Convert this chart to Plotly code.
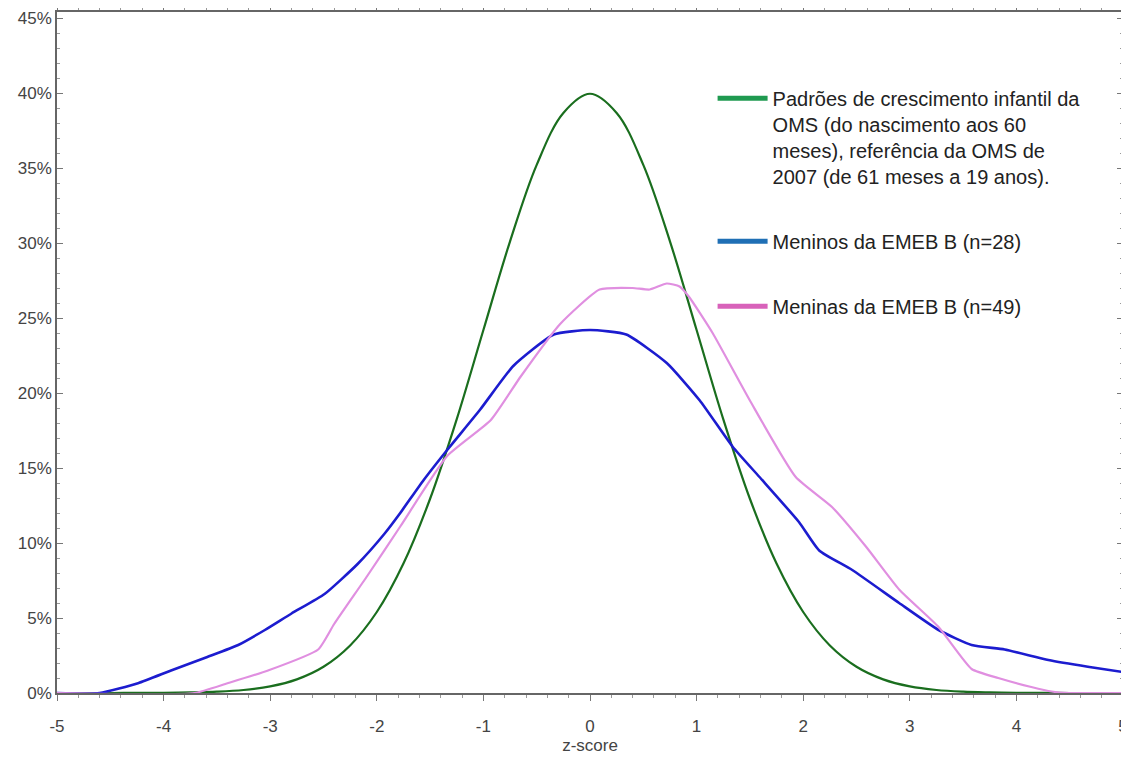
import plotly.graph_objects as go

# ---- data (in %) ----
who_x = [-5.0, -4.75, -4.5, -4.25, -4.0, -3.75, -3.5, -3.25, -3.0, -2.75, -2.5, -2.25,
         -2.0, -1.75, -1.5, -1.25, -1.0, -0.75, -0.5, -0.25, 0.0, 0.25, 0.5, 0.75,
         1.0, 1.25, 1.5, 1.75, 2.0, 2.25, 2.5, 2.75, 3.0, 3.25, 3.5, 3.75, 4.0,
         4.25, 4.5, 4.75, 5.0]
who_y = [0.0, 0.0, 0.0, 0.01, 0.01, 0.04, 0.09, 0.2, 0.44, 0.91, 1.75, 3.17,
         5.4, 8.63, 12.95, 18.26, 24.2, 30.11, 35.21, 38.67, 39.95, 38.67, 35.21, 30.11,
         24.2, 18.26, 12.95, 8.63, 5.4, 3.17, 1.75, 0.91, 0.44, 0.2, 0.09, 0.04, 0.01,
         0.01, 0.0, 0.0, 0.0]

boys_x = [-5.0, -4.6, -4.24, -3.93, -3.59, -3.30, -3.05, -2.80, -2.49, -2.18, -1.93,
          -1.78, -1.56, -1.34, -1.03, -0.72, -0.34, 0.0, 0.34, 0.72, 1.03, 1.34, 1.59,
          1.96, 2.15, 2.46, 2.90, 3.27, 3.58, 3.89, 4.30, 4.67, 5.0]
boys_y = [0.0, 0.0, 0.65, 1.5, 2.4, 3.2, 4.2, 5.3, 6.6, 8.6, 10.6,
          12.0, 14.2, 16.2, 18.9, 21.8, 23.9, 24.2, 23.9, 22.0, 19.5, 16.4, 14.4,
          11.4, 9.5, 8.2, 6.0, 4.2, 3.2, 2.9, 2.2, 1.75, 1.4]

girls_x = [-5.0, -3.71, -3.40, -3.02, -2.55, -2.40, -2.09, -1.78, -1.34, -0.93, -0.65,
           -0.28, 0.09, 0.40, 0.56, 0.72, 0.84, 0.93, 1.15, 1.50, 1.93, 2.27, 2.59,
           2.90, 3.27, 3.58, 3.83, 4.14, 4.33, 4.5, 5.0]
girls_y = [0.0, 0.0, 0.65, 1.5, 2.9, 4.6, 7.8, 11.1, 15.8, 18.2, 21.1,
           24.6, 26.9, 27.0, 26.9, 27.3, 27.1, 26.4, 24.0, 19.5, 14.4, 12.4, 9.75,
           6.9, 4.4, 1.6, 1.0, 0.4, 0.1, 0.0, 0.0]

series_names = [
    "Padrões de crescimento infantil da<br>OMS (do nascimento aos 60<br>meses), referência da OMS de<br>2007 (de 61 meses a 19 anos).",
    "Meninos da EMEB B (n=28)",
    "Meninas da EMEB B (n=49)",
]

x_ticks = [-5, -4, -3, -2, -1, 0, 1, 2, 3, 4, 5]
y_ticks = [0, 5, 10, 15, 20, 25, 30, 35, 40, 45]
y_ticklabels = [f"{v}%" for v in y_ticks]

line_colors = ["#1a6e1e", "#1c1ccf", "#e08fe0"]
swatch_colors = ["#1f9a50", "#1f6fb5", "#d862ba"]

fig = go.Figure()

# plotted curves (no legend)
for xs, ys, col, w, sm in [(who_x, who_y, line_colors[0], 2.2, 1.0),
                           (boys_x, boys_y, line_colors[1], 2.6, 0.5),
                           (girls_x, girls_y, line_colors[2], 2.2, 0.5)]:
    fig.add_trace(go.Scatter(x=xs, y=ys, mode="lines",
                             line=dict(color=col, width=w, shape="spline", smoothing=sm),
                             showlegend=False, hoverinfo="skip"))

# legend entries
for i, (name, col) in enumerate(zip(series_names, swatch_colors)):
    fig.add_trace(go.Scatter(x=[None], y=[None], mode="lines", name=name,
                             line=dict(color=col, width=5),
                             legendgroup=f"g{i}", showlegend=True))

font_family = "Liberation Sans, Arial, sans-serif"

fig.update_layout(
    width=1121, height=747,
    margin=dict(l=49, r=6, t=4, b=62),
    paper_bgcolor="white", plot_bgcolor="white",
    font=dict(family=font_family, color="#444"),
    legend=dict(
        x=0.615, y=0.902, xanchor="left", yanchor="top",
        bgcolor="rgba(0,0,0,0)", font=dict(size=20, color="#222", family=font_family),
        valign="top", tracegroupgap=36, itemwidth=50,
    ),
    xaxis=dict(
        range=[-5, 5], tickvals=x_ticks, ticktext=[str(v) for v in x_ticks],
        automargin=False, ticklabeloverflow="allow",
        showgrid=False, zeroline=False, showline=True, linecolor="#666", linewidth=1.5,
        mirror="ticks", ticks="outside", ticklen=6, tickcolor="#777", tickwidth=1,
        tickfont=dict(size=17, color="#444"), ticklabelstandoff=11,
        minor=dict(dtick=0.2, ticks="outside", ticklen=3, tickcolor="#999", showgrid=False),
        title=dict(text="z-score", font=dict(size=17, color="#444"), standoff=6),
    ),
    yaxis=dict(
        range=[0, 45.4], tickvals=y_ticks, ticktext=y_ticklabels,
        automargin=False, ticklabeloverflow="allow",
        showgrid=False, zeroline=False, showline=True, linecolor="#666", linewidth=1.5,
        mirror="ticks", ticks="inside", ticklen=6, tickcolor="#777", tickwidth=1,
        tickfont=dict(size=17, color="#444"),
        minor=dict(dtick=1, ticks="inside", ticklen=3, tickcolor="#999", showgrid=False),
    ),
)

fig.write_html("out.html")
